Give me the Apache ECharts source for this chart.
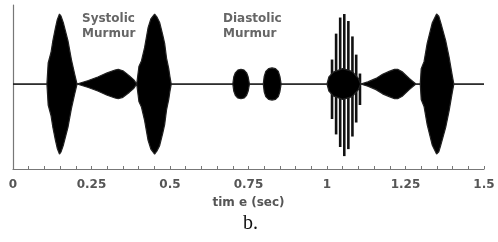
<!DOCTYPE html>
<html>
<head>
<meta charset="utf-8">
<script src="https://cdn.jsdelivr.net/npm/echarts@6/dist/echarts.min.js"></script>
<style>
  html, body { margin: 0; padding: 0; background: #fff; }
  #chart { width: 498px; height: 242px; }
</style>
</head>
<body>
<div id="chart"></div>
<script>
// envelopes: [time (s), half amplitude]
const s1a = [[0.108, 0], [0.112, 0.3], [0.121, 0.45], [0.127, 0.62], [0.135, 0.8], [0.141, 0.92], [0.148, 1.0], [0.153, 0.97], [0.160, 0.88], [0.175, 0.62], [0.186, 0.35], [0.196, 0.15], [0.204, 0]]
const murmurSys1 = [[0.207, 0], [0.24, 0.05], [0.27, 0.1], [0.30, 0.16], [0.325, 0.2], [0.335, 0.21], [0.35, 0.19], [0.37, 0.12], [0.385, 0.06], [0.394, 0]]
const s2a = [[0.398, 0], [0.401, 0.25], [0.409, 0.33], [0.419, 0.52], [0.430, 0.8], [0.439, 0.93], [0.451, 1.0], [0.458, 0.96], [0.467, 0.88], [0.477, 0.7], [0.483, 0.58], [0.489, 0.37], [0.496, 0.22], [0.500, 0.1], [0.504, 0]]
const murmurDia1 = [[0.700, 0], [0.703, 0.1], [0.708, 0.16], [0.716, 0.2], [0.726, 0.21], [0.736, 0.2], [0.744, 0.16], [0.749, 0.1], [0.753, 0]]
const murmurDia2 = [[0.797, 0], [0.800, 0.11], [0.805, 0.18], [0.814, 0.22], [0.825, 0.23], [0.836, 0.22], [0.845, 0.18], [0.850, 0.11], [0.854, 0]]
const s1bCore = [[1.0, 0], [1.006, 0.1], [1.02, 0.17], [1.05, 0.22], [1.08, 0.18], [1.1, 0.08], [1.107, 0]]
const murmurSys2 = [[1.110, 0], [1.13, 0.03], [1.156, 0.08], [1.177, 0.14], [1.198, 0.18], [1.215, 0.21], [1.225, 0.21], [1.241, 0.17], [1.262, 0.08], [1.283, 0]]
const s2b = [[1.297, 0], [1.300, 0.22], [1.309, 0.32], [1.319, 0.58], [1.335, 0.87], [1.349, 1.0], [1.356, 0.97], [1.362, 0.88], [1.378, 0.62], [1.389, 0.38], [1.399, 0.12], [1.404, 0]]
// separate oscillation strokes of the second S1: [time, up, down]
const s1bStrokes = [[1.016, 0.35, 0.5], [1.029, 0.72, 0.72], [1.042, 0.95, 0.9], [1.055, 1.0, 1.03], [1.068, 0.9, 0.93], [1.081, 0.68, 0.75], [1.093, 0.42, 0.55], [1.105, 0.15, 0.3]]
const tickLabels = ['0', '0.25', '0.5', '0.75', '1', '1.25', '1.5']

const bursts = [s1a, murmurSys1, s2a, murmurDia1, murmurDia2, s1bCore, murmurSys2, s2b]
const upper = [[0, 0]].concat(...bursts, [[1.5, 0]])
const lower = upper.map(p => [p[0], -p[1]])

const font = 'DejaVu Sans'
const chart = echarts.init(document.getElementById('chart'))

const envelope = (data) => ({
  type: 'line',
  data,
  showSymbol: false,
  silent: true,
  lineStyle: { color: '#222', width: 1.2 },
  areaStyle: { color: '#000', opacity: 1, origin: 0 }
})

chart.setOption({
  animation: false,
  grid: { left: 13, right: 14, top: 5, bottom: 73 },
  xAxis: {
    type: 'value',
    min: 0,
    max: 1.5,
    interval: 0.25,
    name: 'tim e (sec)',
    nameLocation: 'middle',
    nameGap: 28,
    nameTextStyle: { fontFamily: font, fontSize: 12, fontWeight: 'bold', color: '#555' },
    axisLine: { onZero: false, lineStyle: { color: '#777', width: 1.2 } },
    axisTick: { inside: true, length: 3, lineStyle: { color: '#777' } },
    minorTick: { show: true, splitNumber: 5, length: 3, lineStyle: { color: '#777' } },
    splitLine: { show: false },
    axisLabel: {
      margin: 10,
      fontFamily: font,
      fontSize: 12,
      fontWeight: 'bold',
      color: '#555',
      formatter: (v) => tickLabels[Math.round(v / 0.25)]
    }
  },
  yAxis: {
    type: 'value',
    min: -1.214,
    max: 1.129,
    axisLine: { show: true, onZero: false, lineStyle: { color: '#777', width: 1.2 } },
    axisTick: { show: false },
    axisLabel: { show: false },
    splitLine: { show: false }
  },
  series: [
    envelope(upper),
    envelope(lower),
    {
      type: 'custom',
      data: s1bStrokes,
      silent: true,
      renderItem: (params, api) => {
        const top = api.coord([api.value(0), api.value(1)])
        const bottom = api.coord([api.value(0), -api.value(2)])
        return {
          type: 'line',
          shape: { x1: top[0], y1: top[1], x2: bottom[0], y2: bottom[1] },
          style: { stroke: '#111', lineWidth: 2.6 }
        }
      }
    }
  ],
  graphic: [
    { type: 'text', left: 82, top: 11, style: { text: 'Systolic\nMurmur', fontFamily: font, fontSize: 12, fontWeight: 'bold', fill: '#666', lineHeight: 15 } },
    { type: 'text', left: 223, top: 11, style: { text: 'Diastolic\nMurmur', fontFamily: font, fontSize: 12, fontWeight: 'bold', fill: '#666', lineHeight: 15, align: 'center' } },
    { type: 'text', left: 243, top: 214, style: { text: 'b.', fontFamily: 'Liberation Serif', fontSize: 20, fill: '#111' } }
  ]
})
</script>
</body>
</html>
